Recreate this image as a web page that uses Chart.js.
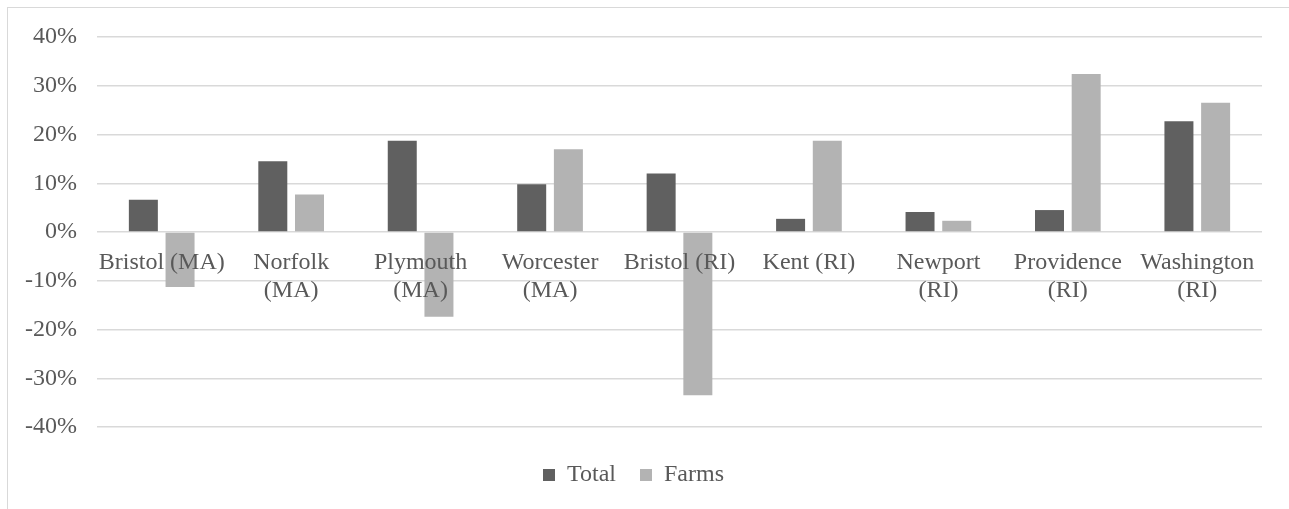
<!DOCTYPE html>
<html>
<head>
<meta charset="utf-8">
<script src="https://cdn.jsdelivr.net/npm/chart.js@4.4.1/dist/chart.umd.min.js"></script>
<style>
  html, body { margin: 0; padding: 0; background: #fff; overflow: hidden; }
  #wrap { position: relative; width: 1289px; height: 509px; }
  #frame { position: absolute; left: 7px; top: 7px; width: 1400px; height: 600px;
           border-left: 1px solid #d9d9d9; border-top: 1px solid #d9d9d9; }
  #c { position: absolute; left: 0; top: 0; }
</style>
</head>
<body>
<div id="wrap">
  <div id="frame"></div>
  <canvas id="c" width="1289" height="509"></canvas>
</div>
<script>
// Counties (labels split onto lines)
const categories = [
  'Bristol (MA)',
  ['Norfolk', '(MA)'],
  ['Plymouth', '(MA)'],
  ['Worcester', '(MA)'],
  'Bristol (RI)',
  'Kent (RI)',
  ['Newport', '(RI)'],
  ['Providence', '(RI)'],
  ['Washington', '(RI)']
];

// Percent change by county
const totalChange = [6.6, 14.5, 18.7, 9.8, 12.0, 2.7, 4.1, 4.5, 22.7];
const farmsChange = [-11.3, 7.7, -17.4, 17.0, -33.5, 18.7, 2.3, 32.4, 26.5];

// Value axis ticks
const yTicks = [-40, -30, -20, -10, 0, 10, 20, 30, 40];

const textColor = '#595959';
const serif = "'Liberation Serif', 'Times New Roman', serif";

const chart = new Chart(document.getElementById('c'), {
  type: 'bar',
  data: {
    labels: categories,
    datasets: [
      { label: 'Total', data: totalChange, backgroundColor: '#606060',
        categoryPercentage: 0.567, barPercentage: 0.79 },
      { label: 'Farms', data: farmsChange, backgroundColor: '#b3b3b3',
        categoryPercentage: 0.567, barPercentage: 0.79 }
    ]
  },
  options: {
    responsive: false,
    animation: false,
    devicePixelRatio: 1,
    layout: { padding: { left: 5, right: 27, top: 37, bottom: 12 } },
    plugins: {
      tooltip: { enabled: false },
      legend: {
        position: 'bottom',
        title: { display: true, text: ' ', padding: 0, font: { size: 10 } },
        labels: {
          boxWidth: 12, boxHeight: 12, padding: 24,
          color: textColor,
          font: { family: serif, size: 24 }
        }
      }
    },
    scales: {
      x: {
        position: { y: 0 },
        grid: { display: false },
        border: { display: false },
        afterFit: (scale) => { scale.paddingLeft = 0; scale.paddingRight = 0; },
        ticks: {
          z: 1,  // category names sit on top of the bars
          color: textColor, padding: 8, maxRotation: 0, autoSkip: false,
          font: { family: serif, size: 24 }
        }
      },
      y: {
        min: yTicks[0],
        max: yTicks[yTicks.length - 1],
        afterBuildTicks: (axis) => { axis.ticks = yTicks.map(v => ({ value: v })); },
        grid: { color: '#d9d9d9', lineWidth: 1.5, drawTicks: false },
        border: { display: false },
        ticks: {
          color: textColor, padding: 20,
          font: { family: serif, size: 24 },
          callback: (v) => v + '%'
        }
      }
    }
  }
});

// Redraw once the serif face is ready so labels measure correctly
if (document.fonts && document.fonts.load) {
  document.fonts.load("24px 'Liberation Serif'").then(() => chart.update());
}
</script>
</body>
</html>
